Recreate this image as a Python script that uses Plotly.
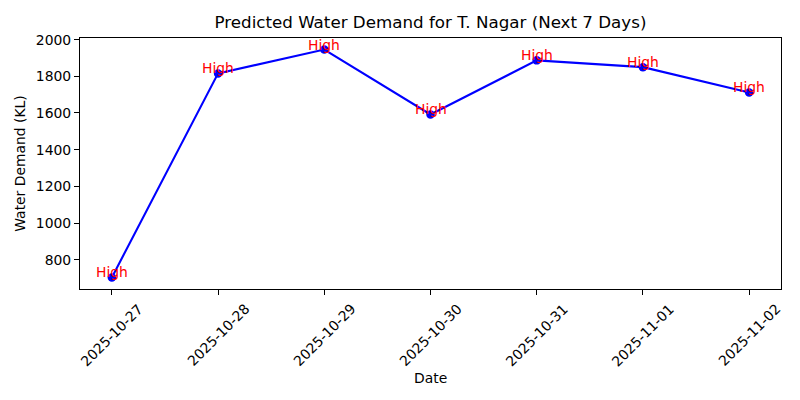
import plotly.graph_objects as go

# Forecast data
dates = ["2025-10-27", "2025-10-28", "2025-10-29", "2025-10-30",
         "2025-10-31", "2025-11-01", "2025-11-02"]
demand = [703, 1816, 1946, 1592, 1887, 1850, 1712]
levels = ["High", "High", "High", "High", "High", "High", "High"]
y_ticks = [800, 1000, 1200, 1400, 1600, 1800, 2000]

FONT = "DejaVu Sans"

fig = go.Figure()

fig.add_trace(go.Scatter(
    x=dates, y=demand,
    mode="lines+markers",
    line=dict(color="blue", width=2.1),
    marker=dict(color="blue", size=8.5),
    showlegend=False
))

# red level labels sitting on each point (baseline at the point)
for d, v, lvl in zip(dates, demand, levels):
    fig.add_annotation(
        x=d, y=v, text=lvl, showarrow=False,
        xanchor="center", yanchor="bottom", yshift=-4, borderpad=0,
        font=dict(family=FONT, size=13.9, color="red")
    )

# rotated date labels, centred under each tick like matplotlib's rotation=45
for d in dates:
    fig.add_annotation(
        x=d, y=0, xref="x", yref="paper", text=d, showarrow=False,
        textangle=-45, xanchor="center", yanchor="top", yshift=-10,
        borderpad=0, font=dict(family=FONT, size=13.9, color="black")
    )

# x axis title
fig.add_annotation(
    x=0.5, y=0, xref="paper", yref="paper", text="Date", showarrow=False,
    xanchor="center", yanchor="top", yshift=-80, borderpad=0,
    font=dict(family=FONT, size=13.9, color="black")
)

# page body adds an 8px offset, so margins are trimmed to compensate
fig.update_layout(
    width=800, height=400,
    margin=dict(l=72, r=27, t=30, b=119),
    paper_bgcolor="white", plot_bgcolor="white",
    font=dict(family=FONT, size=13.9, color="black"),
    title=dict(
        text="Predicted Water Demand for T. Nagar (Next 7 Days)",
        font=dict(family=FONT, size=16.7, color="black"),
        x=0.5, xref="paper", xanchor="center",
        y=1 - 14 / 400, yref="container", yanchor="middle"
    )
)

fig.update_xaxes(
    type="date",
    range=["2025-10-26 16:48", "2025-11-02 07:12"],
    tickmode="array", tickvals=dates,
    showticklabels=False,
    ticks="outside", ticklen=5, tickwidth=1.1, tickcolor="black",
    showline=True, linecolor="black", linewidth=1.1, mirror=True,
    showgrid=False, zeroline=False
)

fig.update_yaxes(
    range=[640, 2009],
    tickmode="array", tickvals=y_ticks,
    ticks="outside", ticklen=5, tickwidth=1.1, tickcolor="black",
    tickfont=dict(family=FONT, size=13.9, color="black"),
    showline=True, linecolor="black", linewidth=1.1, mirror=True,
    showgrid=False, zeroline=False,
    title=dict(text="Water Demand (KL)", standoff=6,
               font=dict(family=FONT, size=13.9, color="black"))
)

fig.write_html("out.html")
